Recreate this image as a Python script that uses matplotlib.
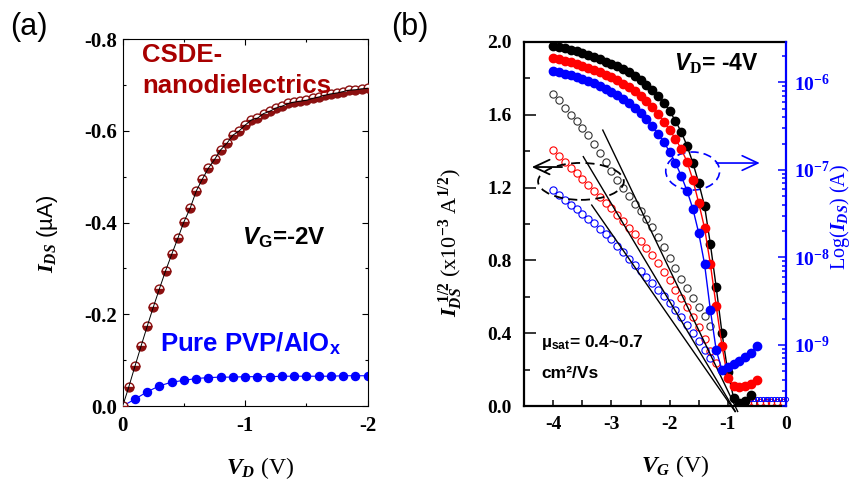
import numpy as np
import matplotlib
matplotlib.use('Agg')
import matplotlib.pyplot as plt
from matplotlib.patches import Ellipse
from matplotlib.ticker import MultipleLocator, FormatStrFormatter, LogLocator, NullFormatter

plt.rcParams.update({
    'font.family': 'Liberation Serif',
    'font.weight': 'bold',
    'axes.unicode_minus': False,
    'mathtext.fontset': 'custom',
    'mathtext.rm': 'Liberation Serif',
    'mathtext.it': 'Liberation Serif:italic',
    'mathtext.bf': 'Liberation Serif:bold',
    'mathtext.bfit': 'Liberation Serif:italic:bold',
    'mathtext.sf': 'Liberation Sans:bold',
    'mathtext.cal': 'Liberation Sans:italic:bold',
})

# ---- (a) output curves, V_G = -2 V
vd_csde = np.linspace(0, -2.0, 41)
id_csde = [0, -0.042, -0.087, -0.131, -0.174, -0.216, -0.256, -0.295, -0.331, -0.366,
           -0.402, -0.431, -0.469, -0.495, -0.519, -0.538, -0.559, -0.573, -0.591, -0.600,
           -0.613, -0.624, -0.628, -0.638, -0.643, -0.650, -0.654, -0.660, -0.663, -0.665,
           -0.667, -0.671, -0.674, -0.678, -0.681, -0.683, -0.686, -0.689, -0.690, -0.692,
           -0.693]
vd_pvp = np.linspace(0, -2.0, 21)
id_pvp = [0, -0.015, -0.031, -0.044, -0.052, -0.056, -0.060, -0.062, -0.063, -0.063,
          -0.064, -0.064, -0.064, -0.065, -0.065, -0.065, -0.065, -0.065, -0.066, -0.066,
          -0.066]

# ---- (b) transfer curves, V_D = -4 V, log10(I_DS / A)
vg_k = np.linspace(-4.0, -0.6, 35)
log_k = [-5.583, -5.594, -5.611, -5.629, -5.646, -5.663, -5.686, -5.709, -5.737, -5.766,
         -5.789, -5.811, -5.846, -5.886, -5.926, -5.971, -6.029, -6.086, -6.154, -6.234,
         -6.326, -6.440, -6.566, -6.726, -6.920, -7.149, -7.411, -7.846, -8.337, -8.863,
         -9.309, -9.606, -9.663, -9.640, -9.571]
vg_r = np.linspace(-4.0, -0.5, 36)
log_r = [-5.720, -5.737, -5.754, -5.771, -5.789, -5.811, -5.834, -5.857, -5.886, -5.914,
         -5.943, -5.977, -6.017, -6.057, -6.103, -6.154, -6.211, -6.280, -6.360, -6.451,
         -6.543, -6.646, -6.760, -6.909, -7.114, -7.377, -7.663, -8.074, -8.554, -9.011,
         -9.377, -9.469, -9.480, -9.469, -9.446, -9.400]
vg_b = np.linspace(-4.0, -0.5, 36)
log_b = [-5.869, -5.886, -5.903, -5.920, -5.937, -5.960, -5.983, -6.011, -6.040, -6.074,
         -6.109, -6.149, -6.189, -6.234, -6.291, -6.349, -6.417, -6.497, -6.589, -6.680,
         -6.794, -6.920, -7.069, -7.240, -7.446, -7.720, -8.074, -8.600, -9.057, -9.286,
         -9.251, -9.217, -9.183, -9.137, -9.091, -9.011]

# sqrt(I_DS) in 1e-3 A^1/2
vg_open_k = np.linspace(-4.0, -1.3, 28)
sq_k = [1.714, 1.68, 1.64, 1.60, 1.565, 1.525, 1.49, 1.44, 1.39, 1.34,
        1.29, 1.24, 1.20, 1.155, 1.11, 1.07, 1.03, 0.985, 0.93, 0.875,
        0.815, 0.76, 0.70, 0.65, 0.595, 0.545, 0.495, 0.44]
vg_open_r = np.linspace(-4.0, -1.2, 29)
sq_r = [1.407, 1.375, 1.342, 1.31, 1.278, 1.246, 1.215, 1.184, 1.15, 1.118,
        1.087, 1.052, 1.017, 0.98, 0.945, 0.908, 0.868, 0.828, 0.785, 0.738,
        0.69, 0.64, 0.592, 0.543, 0.491, 0.432, 0.37, 0.302, 0.235]
vg_open_b = np.linspace(-4.0, -1.3, 28)
sq_b = [1.187, 1.16, 1.133, 1.106, 1.08, 1.055, 1.03, 1.005, 0.975, 0.945,
        0.915, 0.88, 0.845, 0.81, 0.775, 0.742, 0.708, 0.675, 0.64, 0.605,
        0.568, 0.53, 0.49, 0.447, 0.402, 0.357, 0.31, 0.262]
vg_off_r = np.linspace(-0.65, -0.05, 7)
sq_off_r = [0.02, 0.02, 0.022, 0.02, 0.02, 0.021, 0.02]
vg_off_b = np.linspace(-0.65, 0.0, 14)
sq_off_b = [0.04, 0.04, 0.041, 0.04, 0.04, 0.04, 0.041, 0.04, 0.04, 0.04, 0.04, 0.041, 0.04, 0.04]

# linear fits (V_G, sqrt I) end points
fit_k = ([-3.15, -0.83], [1.516, -0.03])
fit_r = ([-3.485, -0.87], [1.37, -0.03])
fit_b = ([-3.34, -0.875], [1.104, -0.03])

maroon = '#8b1010'

fig = plt.figure(figsize=(8.54, 4.86), dpi=100)

# ================= (a)
ax_a = fig.add_axes([0.1437, 0.1646, 0.2869, 0.7545])
ax_a.plot(vd_pvp, id_pvp, '-', color='blue', lw=0.8, marker='o', ms=5.8,
          mfc='blue', mec='blue', zorder=2)
ax_a.plot(vd_csde, id_csde, ls='none', marker='o', ms=6.4, fillstyle='bottom',
          mfc=maroon, mfcalt='white', mec=maroon, mew=1.0, zorder=3)
ax_a.plot(vd_csde, id_csde, color='black', lw=0.7, zorder=4)
ax_a.set_xlim(0, -2)
ax_a.set_ylim(0, -0.8)
ax_a.set_xticks([0, -1, -2])
ax_a.set_yticks([0, -0.2, -0.4, -0.6, -0.8])
ax_a.xaxis.set_minor_locator(MultipleLocator(0.5))
ax_a.yaxis.set_minor_locator(MultipleLocator(0.1))
ax_a.xaxis.set_major_formatter(FormatStrFormatter('%d'))
ax_a.yaxis.set_major_formatter(FormatStrFormatter('%.1f'))
ax_a.tick_params(which='both', direction='in', top=True, right=True, width=0.8,
                 labelsize=15)
ax_a.tick_params(which='major', length=4)
ax_a.tick_params(which='minor', length=2.5)
ax_a.tick_params(axis='y', pad=4)
ax_a.tick_params(axis='x', pad=7)
for s in ax_a.spines.values():
    s.set_linewidth(0.8)

ax_a.set_ylabel(r'$I_{DS}$ (µA)', family='Liberation Sans', fontweight='normal', fontsize=16)
ax_a.yaxis.set_label_coords(-0.255, 0.47)
ax_a.set_xlabel(r'$\mathbfit{V_D}$ (V)', fontsize=17)
ax_a.xaxis.set_label_coords(0.56, -0.135)

ax_a.text(0.079, 0.939, 'CSDE-', transform=ax_a.transAxes, color='#a80000',
          family='Liberation Sans', fontweight='bold', fontsize=18.5)
ax_a.text(0.079, 0.853, 'nanodielectrics', transform=ax_a.transAxes, color='#a80000',
          family='Liberation Sans', fontweight='bold', fontsize=18.5)
ax_a.text(0.487, 0.439, r'$\mathcal{V}_{\mathsf{G}}$=-2V', transform=ax_a.transAxes,
          color='black', family='Liberation Sans', fontweight='bold', fontsize=17.5)
ax_a.text(0.153, 0.148, r'Pure PVP/AlO$_{\mathsf{x}}$', transform=ax_a.transAxes,
          color='blue', family='Liberation Sans', fontweight='bold', fontsize=18.5)

# ================= (b)
ax_b = fig.add_axes([0.6139, 0.1646, 0.3064, 0.749])
ax_b.plot(vg_open_k, sq_k, ls='none', marker='o', ms=5.2, mfc='none', mec='#333333', mew=0.8)
ax_b.plot(vg_open_r, sq_r, ls='none', marker='o', ms=5.2, mfc='none', mec='red', mew=0.8)
ax_b.plot(vg_open_b, sq_b, ls='none', marker='o', ms=5.2, mfc='none', mec='blue', mew=0.8)
ax_b.plot(vg_off_r, sq_off_r, ls='none', marker='o', ms=4.6, mfc='none', mec='red',
          mew=0.8, clip_on=False)
ax_b.plot(vg_off_b, sq_off_b, ls='none', marker='o', ms=3, mfc='none', mec='blue',
          mew=0.7, clip_on=False)
for fv, fs in (fit_k, fit_r, fit_b):
    ax_b.plot(fv, fs, color='black', lw=1.0, clip_on=False, zorder=3)

ax_b.add_patch(Ellipse((-3.525, 1.234), 1.475, 0.203, fill=False, ec='black', lw=1.3,
                       ls=(0, (5, 3)), zorder=4))
ax_b.annotate('', xy=(-4.37, 1.313), xytext=(-3.85, 1.313),
              arrowprops=dict(arrowstyle='->,head_length=0.75,head_width=0.35',
                              color='black', lw=1.3, mutation_scale=15,
                              shrinkA=0, shrinkB=0))
ax_b.add_patch(Ellipse((-1.604, 1.291), 0.926, 0.209, fill=False, ec='blue', lw=1.2,
                       ls=(0, (5, 3)), zorder=6))
ax_b.annotate('', xy=(-0.45, 1.335), xytext=(-1.196, 1.335),
              arrowprops=dict(arrowstyle='->,head_length=0.75,head_width=0.35',
                              color='blue', lw=1.2, mutation_scale=15,
                              shrinkA=0, shrinkB=0), zorder=6)

ax_b.set_xlim(-4.5, 0)
ax_b.set_ylim(0, 2.0)
ax_b.set_xticks([-4, -3, -2, -1, 0])
ax_b.xaxis.set_minor_locator(MultipleLocator(0.5))
ax_b.set_yticks([0, 0.4, 0.8, 1.2, 1.6, 2.0])
ax_b.yaxis.set_minor_locator(MultipleLocator(0.2))
ax_b.xaxis.set_major_formatter(FormatStrFormatter('%d'))
ax_b.yaxis.set_major_formatter(FormatStrFormatter('%.1f'))
ax_b.tick_params(which='both', direction='in', width=1.1, labelsize=14)
ax_b.tick_params(axis='y', which='major', length=8.5, pad=9)
ax_b.tick_params(axis='y', which='minor', length=4)
ax_b.tick_params(axis='x', which='both', length=4.5, pad=7)
for s in ax_b.spines.values():
    s.set_linewidth(1.6)
ax_b.spines['right'].set_visible(False)

ax_b.set_ylabel(r'$I_{DS}^{\ 1/2}$ (x10$^{-3}$ A$^{1/2}$)', fontweight='normal', fontsize=16)
ax_b.yaxis.set_label_coords(-0.225, 0.45)
ax_b.set_xlabel(r'$\mathbfit{V_G}$ (V)', fontsize=17)
ax_b.xaxis.set_label_coords(0.575, -0.128)

ax_b.text(-1.92, 1.84, r'$\mathcal{V}_{\mathbf{D}}$= -4V', family='Liberation Sans',
          fontweight='bold', fontsize=16.5)
ax_b.text(-4.21, 0.326, r'µ$_{\mathsf{sat}}$= 0.4~0.7', family='Liberation Sans',
          fontweight='bold', fontsize=12.5)
ax_b.text(-4.21, 0.152, 'cm²/Vs', family='Liberation Sans', fontweight='bold', fontsize=12.5)

# log axis on the right
ax_r = ax_b.twinx()
ax_r.plot(vg_k, 10 ** np.array(log_k), '-o', color='black', ms=6, lw=1)
ax_r.plot(vg_r, 10 ** np.array(log_r), '-o', color='red', ms=6, lw=1)
ax_r.plot(vg_b, 10 ** np.array(log_b), '-o', color='blue', ms=6, lw=1)
ax_r.set_yscale('log')
ax_r.set_ylim(2e-10, 2.9e-6)
ax_r.yaxis.set_major_locator(LogLocator(base=10, numticks=10))
ax_r.yaxis.set_minor_locator(LogLocator(base=10, subs=np.arange(2, 10), numticks=20))
ax_r.yaxis.set_minor_formatter(NullFormatter())
ax_r.tick_params(axis='y', which='both', direction='in', colors='blue', width=1.1,
                 labelsize=14, pad=6)
ax_r.tick_params(axis='y', which='major', length=6)
ax_r.tick_params(axis='y', which='minor', length=3)
for k in ('left', 'top', 'bottom'):
    ax_r.spines[k].set_visible(False)
ax_r.spines['right'].set_color('blue')
ax_r.spines['right'].set_linewidth(1.6)
ax_r.set_ylabel(r'Log($I_{DS}$) (A)', color='blue', fontweight='normal', fontsize=14.5)
ax_r.yaxis.set_label_coords(1.16, 0.52)

fig.text(0.012, 0.975, '(a)', family='Liberation Sans', fontweight='normal', fontsize=22, va='top')
fig.text(0.458, 0.975, '(b)', family='Liberation Sans', fontweight='normal', fontsize=22, va='top')

fig.savefig('out.png', dpi=100)
